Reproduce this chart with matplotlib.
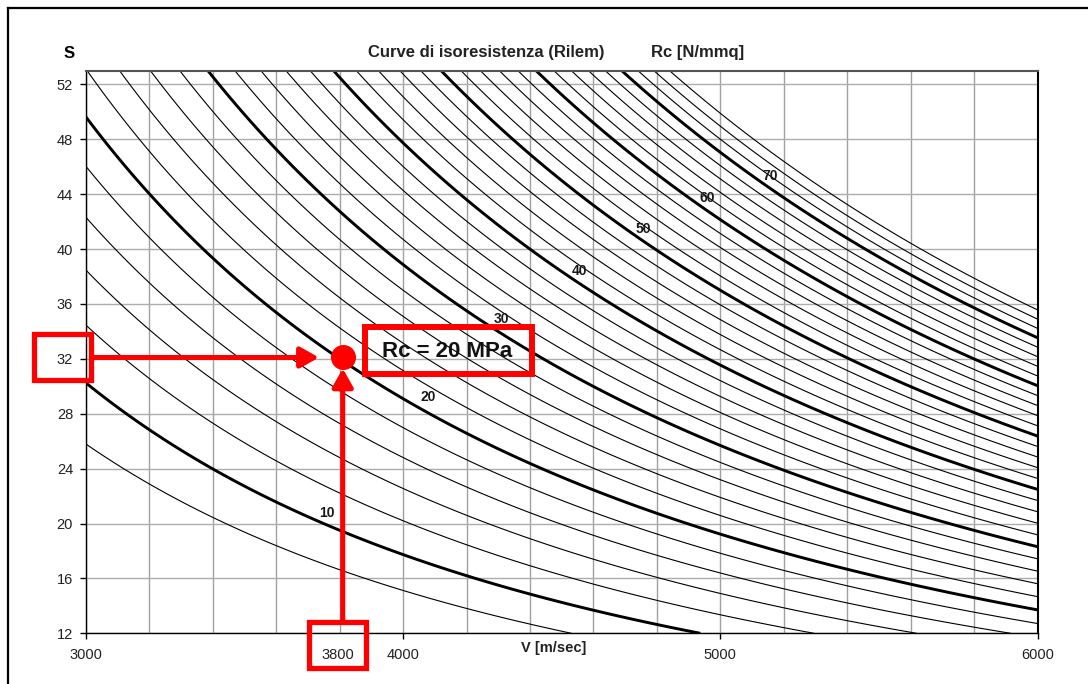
import numpy as np
import matplotlib
matplotlib.use('Agg')
import matplotlib.pyplot as plt
import matplotlib.transforms as mtransforms
from matplotlib.patches import Rectangle
from matplotlib.lines import Line2D

plt.rcParams['font.family'] = ['Liberation Sans', 'DejaVu Sans']

# isoresistance levels Rc [N/mmq] (one curve every 2, thick every 10)
rc_levels = [8, 10, 12, 14, 16, 18, 20, 22, 24, 26, 28, 30, 32, 34, 36, 38,
             40, 42, 44, 46, 48, 50, 52, 54, 56, 58, 60, 62, 64, 66, 68, 70,
             72, 74, 76]
rc_thick = [10, 20, 30, 40, 50, 60, 70]

# Rilem relation  Rc = a * S^1.4 * V^2.6
rilem_a = 7.695e-11
exp_s = 1.4
exp_v = 2.6

# curve labels, placed where they sit on the chart (V, S)
label_text = ['10', '20', '30', '40', '50', '60', '70']
label_v = [3760, 4080, 4310, 4555, 4756, 4958, 5157]
label_s = [20.75, 29.2, 34.9, 38.4, 41.5, 43.7, 45.3]

x_ticks = [3000, 4000, 5000, 6000]
x_grid = [3000, 3200, 3400, 3600, 3800, 4000, 4200, 4400, 4600, 4800, 5000,
          5200, 5400, 5600, 5800, 6000]
y_ticks = [12, 16, 20, 24, 28, 32, 36, 40, 44, 48, 52]

# worked example
point_v = 3810
point_s = 32
point_text = 'Rc = 20 MPa'

W, H = 1088, 684
fig = plt.figure(figsize=(W / 100, H / 100), dpi=100)
ax = fig.add_axes([85.7 / W, (H - 633.3) / H, 952 / W, 562.6 / H])

# curves
vv, ss = np.meshgrid(np.linspace(3000, 6000, 700), np.linspace(12, 53, 700))
rc = rilem_a * ss ** exp_s * vv ** exp_v
lws = [2.1 if l in rc_thick else 0.8 for l in rc_levels]
ax.contour(vv, ss, rc, levels=rc_levels, colors='black', linewidths=lws, zorder=2)

for t, v, s in zip(label_text, label_v, label_s):
    ax.text(v, s, t, ha='center', va='center', fontsize=10, fontweight='bold',
            color='#1a1a1a', zorder=3)

ax.set_xlim(3000, 6000)
ax.set_ylim(12, 53)
ax.set_xticks(x_ticks)
ax.set_xticks(x_grid, minor=True)
ax.set_yticks(y_ticks)
ax.tick_params(which='major', direction='out', length=4.3, width=1,
               labelsize=10.5, labelcolor='#222222')
ax.tick_params(axis='y', pad=4.8)
ax.tick_params(axis='x', pad=6)
ax.tick_params(which='minor', length=0)
ax.set_axisbelow(True)
ax.grid(axis='x', which='both', color='#a0a0a0', lw=1)
ax.grid(axis='y', which='major', color='#adadad', lw=1)
for side in ['left', 'bottom']:
    ax.spines[side].set_linewidth(1)
    ax.spines[side].set_color('black')
ax.spines['right'].set_linewidth(1.5)
ax.spines['right'].set_color('black')
ax.spines['top'].set_linewidth(1.5)
ax.spines['top'].set_color('#555555')

# titles
fig.text(69 / W, 1 - 54 / H, 'S', ha='center', va='center', fontsize=12,
         fontweight='bold')
fig.text(486 / W, 1 - 53 / H, 'Curve di isoresistenza (Rilem)', ha='center',
         va='center', fontsize=12, fontweight='bold', color='#222222')
fig.text(698 / W, 1 - 53 / H, 'Rc [N/mmq]', ha='center', va='center',
         fontsize=12, fontweight='bold', color='#222222')
ax.text(0.492, -0.026, 'V [m/sec]', transform=ax.transAxes, ha='center',
        va='center', fontsize=10.5, fontweight='bold', color='#222222')

# red reading of the example point
red = '#ff0000'
bx = mtransforms.blended_transform_factory(ax.transData, ax.transAxes)
by = mtransforms.blended_transform_factory(ax.transAxes, ax.transData)

ax.text(3795, -0.0386, '3800', transform=bx, ha='center', va='center',
        fontsize=10.5, color='#222222')
ax.add_patch(Rectangle((3705, -0.0608), 177, 0.08, transform=bx, fill=False,
                       ec=red, lw=3.8, clip_on=False, zorder=5))
ax.add_patch(Rectangle((-0.0543, 30.46), 0.0599, 3.32, transform=by, fill=False,
                       ec=red, lw=3.8, clip_on=False, zorder=5))

arrow = dict(arrowstyle='-|>,head_length=1.1,head_width=0.62', color=red,
             lw=3.6, shrinkA=0, shrinkB=0, mutation_scale=10)
ax.annotate('', xy=(3735, point_s + 0.1), xytext=(3023, point_s + 0.1),
            arrowprops=arrow, annotation_clip=False, zorder=6)
ax.annotate('', xy=(point_v, 31.3), xytext=(point_v, 12.97),
            arrowprops=arrow, annotation_clip=False, zorder=6)
ax.plot(point_v, point_s + 0.1, 'o', ms=17, color=red, zorder=7, clip_on=False)

ax.add_patch(Rectangle((3880, 30.9), 526, 3.42, fill=False, ec=red, lw=4.3,
                       zorder=5))
ax.text(4139, 32.5, point_text, ha='center', va='center', fontsize=16,
        fontweight='bold', color='#111111', zorder=6)

# page frame
fig.add_artist(Line2D([8 / W, 8 / W], [0, 1 - 7.5 / H], transform=fig.transFigure,
                      color='black', lw=1.6))
fig.add_artist(Line2D([8 / W, 1], [1 - 7.5 / H, 1 - 7.5 / H],
                      transform=fig.transFigure, color='black', lw=1.6))

fig.savefig('out.png', dpi=100)
